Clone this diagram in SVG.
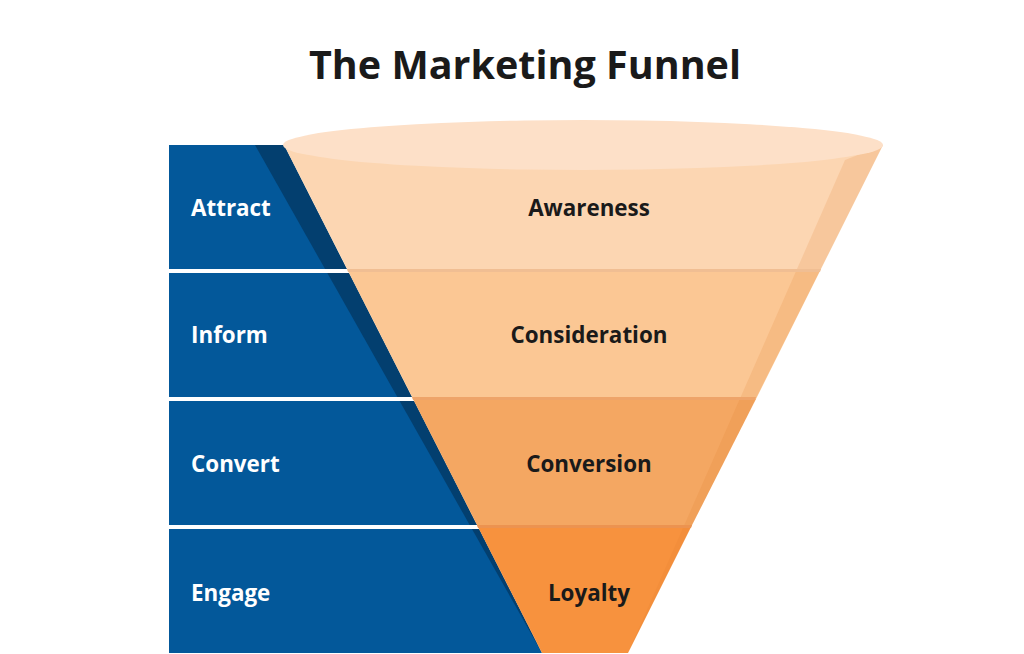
<svg xmlns="http://www.w3.org/2000/svg" width="1024" height="654" viewBox="0 0 1024 654">
<style>
.title{font-family:"Open Sans","Noto Sans",sans-serif;font-weight:700;font-size:39.5px;fill:#1a1a1a}
.lw{font-family:"Open Sans","Noto Sans",sans-serif;font-weight:700;font-size:22.4px;fill:#ffffff}
.lb{font-family:"Open Sans","Noto Sans",sans-serif;font-weight:700;font-size:22.4px;fill:#1a1a1a}
</style>
<rect width="1024" height="654" fill="#ffffff"/>
<text class="title" x="525" y="79" text-anchor="middle">The Marketing Funnel</text>
<g id="stages">
<polygon points="169,145 284,145 542,653 169,653" fill="#03589A"/>
<polygon points="255,145 284,145 542,653" fill="#033F6F"/>
<rect x="169" y="269" width="200" height="4" fill="#ffffff"/>
<rect x="169" y="397" width="260" height="4" fill="#ffffff"/>
<rect x="169" y="525" width="330" height="4" fill="#ffffff"/>
</g>
<g id="funnel">
<polygon id="band-awareness" points="284,145 883,145 820,271 348,271" fill="#FCD6B2"/>
<polygon id="band-consideration" points="348,271 820,271 756,399 413,399" fill="#FBC794"/>
<polygon id="band-conversion" points="413,399 756,399 691,527 478,527" fill="#F4A762"/>
<polygon id="band-loyalty" points="478,527 691,527 628,653 542,653" fill="#F7923E"/>
<polygon points="883,145 628,653 845,160" fill="#E07A2A" opacity="0.16"/>
<polygon points="347,269 821,269 820,272 348,272" fill="#F0BE93"/>
<polygon points="412,397 756,397 755,400 413,400" fill="#EEA46A"/>
<polygon points="477,525 692,525 691,528 478,528" fill="#EC9350"/>
<ellipse cx="583" cy="145" rx="300" ry="25" fill="#FDE0C8"/>
</g>
<g id="labels">
<text class="lw" x="191" y="216">Attract</text>
<text class="lw" x="191" y="343">Inform</text>
<text class="lw" x="191" y="472">Convert</text>
<text class="lw" x="191" y="601">Engage</text>
<text class="lb" x="589" y="216" text-anchor="middle">Awareness</text>
<text class="lb" x="589" y="343" text-anchor="middle">Consideration</text>
<text class="lb" x="589" y="472" text-anchor="middle">Conversion</text>
<text class="lb" x="589" y="601" text-anchor="middle">Loyalty</text>
</g>
</svg>
